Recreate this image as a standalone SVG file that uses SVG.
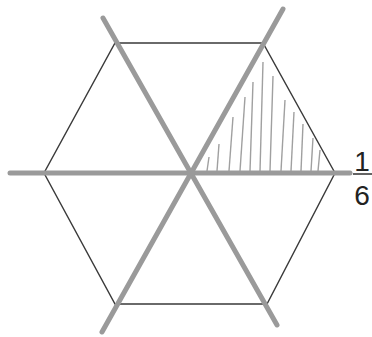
<svg xmlns="http://www.w3.org/2000/svg" width="372" height="337" viewBox="0 0 372 337">
<style>
.hex{fill:none;stroke:#3a3a3a;stroke-width:1.4}
.axis{stroke:#9a9a9a;stroke-width:5;stroke-linecap:round}
.hatch{stroke:#a0a0a0;stroke-width:1.4}
.lbl{font-family:"Liberation Sans",Arial,sans-serif;font-size:28px;fill:#222}
</style>
<rect width="372" height="337" fill="#fff"/>
<g id="hexagon">
<polygon class="hex" points="115,43 263,43 335,173 267,304 115,304 44,173"/>
</g>
<g id="hatching">
<line class="hatch" x1="207" y1="171" x2="209" y2="157"/>
<line class="hatch" x1="217" y1="171" x2="219" y2="144"/>
<line class="hatch" x1="229" y1="171" x2="233" y2="117"/>
<line class="hatch" x1="240" y1="171" x2="245" y2="97"/>
<line class="hatch" x1="250" y1="171" x2="253" y2="82"/>
<line class="hatch" x1="260" y1="171" x2="263" y2="62"/>
<line class="hatch" x1="270" y1="171" x2="273" y2="76"/>
<line class="hatch" x1="281" y1="171" x2="285" y2="100"/>
<line class="hatch" x1="291" y1="171" x2="294" y2="112"/>
<line class="hatch" x1="301" y1="171" x2="303" y2="124"/>
<line class="hatch" x1="311" y1="171" x2="313" y2="138"/>
<line class="hatch" x1="318" y1="171" x2="320" y2="150"/>
</g>
<g id="connectors">
<line class="axis" x1="10" y1="173" x2="350" y2="173"/>
<line class="axis" x1="103" y1="18" x2="277" y2="325"/>
<line class="axis" x1="283" y1="9" x2="102" y2="332"/>
</g>
<g id="label">
<text class="lbl" x="362" y="171" text-anchor="middle">1</text>
<line x1="353" y1="174" x2="372" y2="174" stroke="#222" stroke-width="1.4"/>
<text class="lbl" x="362" y="205" text-anchor="middle">6</text>
</g>
</svg>
